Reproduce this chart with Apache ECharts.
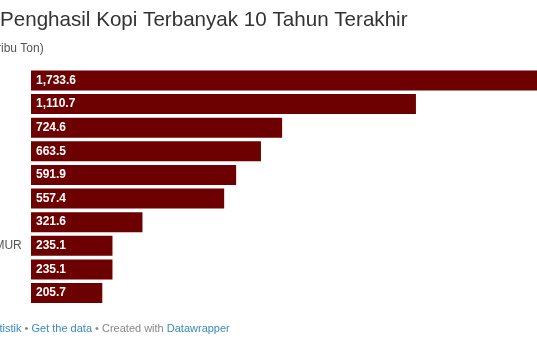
<!DOCTYPE html>
<html>
<head>
<meta charset="utf-8">
<script src="https://cdn.jsdelivr.net/npm/echarts@6/dist/echarts.min.js"></script>
<style>
html,body{margin:0;padding:0;background:#fff;}
#c{width:537px;height:348px;}
</style>
</head>
<body>
<div id="c"></div>
<script>
var categories = ["SUMATERA SELATAN","LAMPUNG","ACEH","SUMATERA UTARA","BENGKULU","JAWA TIMUR","SULAWESI SELATAN","NUSA TENGGARA TIMUR","JAWA TENGAH","SUMATERA BARAT"];
var values = [1733.6,1110.7,724.6,663.5,591.9,557.4,321.6,235.1,235.1,205.7];
var titleText = "Penghasil Kopi Terbanyak 10 Tahun Terakhir";
var subtitleText = "(ribu Ton)";

var chart = echarts.init(document.getElementById('c'), null, {renderer:'canvas'});
var FONT = 'Arial, "Liberation Sans", sans-serif';
chart.setOption({
  animation:false,
  backgroundColor:'#ffffff',
  graphic:[
    {type:'text', left:0, top:10, style:{text:titleText, font:'20.6px '+FONT, fill:'#333333'}},
    {type:'text', left:-7, top:43, style:{text:subtitleText, font:'12px '+FONT, fill:'#555555'}},
    {type:'text', left:-17, top:323, style:{
      text:'{l|Statistik} {g|•} {l|Get the data} {g|•} {g|Created with} {l|Datawrapper}',
      font:'11px '+FONT,
      rich:{
        l:{fill:'#3a8ac0', font:'11px '+FONT},
        g:{fill:'#888888', font:'11px '+FONT}
      }
    }}
  ],
  grid:{left:31, right:0, top:68.7, bottom:43.2, containLabel:false, outerBoundsMode:'none'},
  xAxis:{type:'value', min:0, max:1460, show:false},
  yAxis:{
    type:'category', data:categories, inverse:true,
    axisLine:{show:false}, axisTick:{show:false}, splitLine:{show:false},
    axisLabel:{align:'left', margin:154.6, color:'#555555', fontSize:12, fontFamily:FONT}
  },
  series:[{
    type:'bar', data:values, barWidth:20, clip:true,
    itemStyle:{color:'#6d0000'},
    label:{show:true, position:'insideLeft', distance:5, color:'#ffffff', fontSize:12, fontWeight:'bold', fontFamily:FONT,
      formatter:function(p){return p.value.toLocaleString('en-US',{minimumFractionDigits:1,maximumFractionDigits:1});}}
  }]
});
</script>
</body>
</html>
